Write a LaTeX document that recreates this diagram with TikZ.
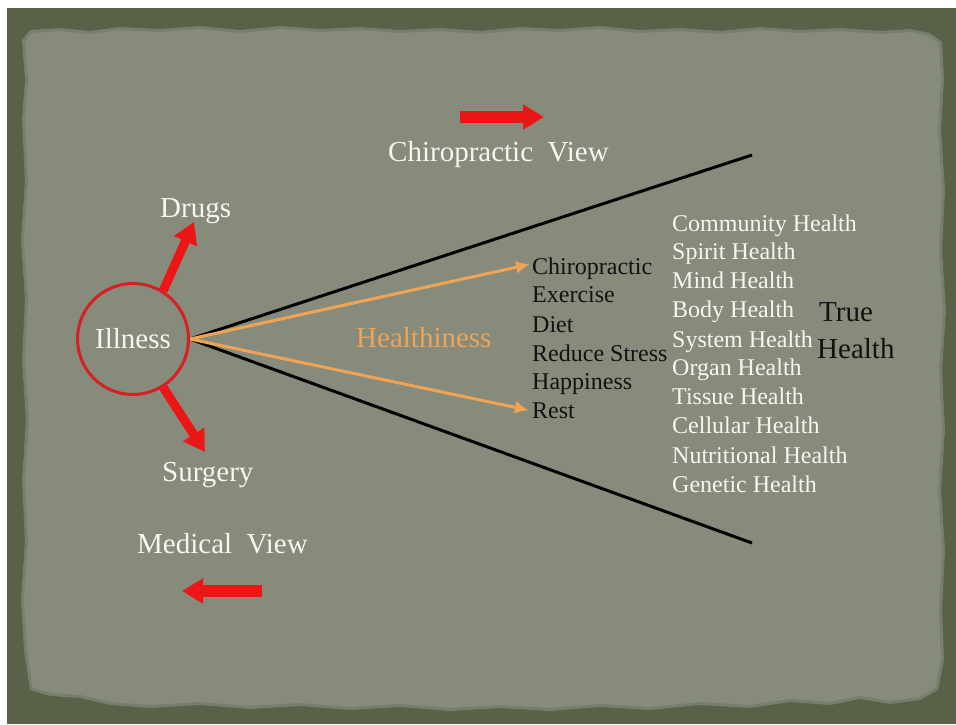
\documentclass[tikz,border=0pt]{standalone}
\usepackage{fontspec}
\setmainfont{Liberation Serif}
\usetikzlibrary{arrows.meta}
\definecolor{framecol}{RGB}{90,97,73}
\definecolor{papercol}{RGB}{134,139,124}
\definecolor{redA}{RGB}{236,22,22}
\definecolor{redC}{RGB}{214,32,36}
\definecolor{orangeA}{RGB}{238,164,84}
\definecolor{txtw}{RGB}{246,246,240}
\definecolor{txtb}{RGB}{18,18,18}
\begin{document}
\begin{tikzpicture}[x=1pt,y=-1pt,
  lbl/.style={inner sep=0pt, anchor=base west},
  bigw/.style={lbl, text=txtw, font=\fontsize{29}{34}\selectfont},
  smallw/.style={lbl, text=txtw, font=\fontsize{24}{29}\selectfont},
  smallb/.style={lbl, text=txtb, font=\fontsize{24}{29}\selectfont},
  bigb/.style={lbl, text=txtb, font=\fontsize{29}{34}\selectfont},
  redarrow/.style={redA, line width=9pt, -{Triangle[length=21pt,width=24pt]}},
  blockarrow/.style={redA, line width=12pt, -{Triangle[length=21pt,width=24pt]}},
  oarrow/.style={orangeA, line width=3pt, -{Latex[length=14pt,width=13pt]}},
  blackline/.style={black, line width=3pt}]
\useasboundingbox (0,0) rectangle (956,724);
% frame and paper
\fill[framecol] (7,8) rectangle (956,724);
\def\paperpath{(22,40) -- (30,30) -- (60,28) -- (90,31) -- (120,27) -- (160,29) -- (200,26) -- (240,30) -- (280,26) -- (320,29) -- (360,27) -- (400,30) -- (440,28) -- (480,31) -- (520,27) -- (560,29) -- (600,26) -- (640,30) -- (680,28) -- (720,31) -- (760,27) -- (800,30) -- (840,28) -- (880,31) -- (910,29) -- (930,33) -- (942,42)
 -- (944,80) -- (941,130) -- (945,190) -- (942,250) -- (946,310) -- (942,370) -- (945,430) -- (941,490) -- (945,550) -- (942,610) -- (944,660) -- (938,690)
 -- (920,700) -- (890,704) -- (860,699) -- (830,705) -- (790,702) -- (750,708) -- (700,705) -- (650,710) -- (600,707) -- (550,711) -- (500,708) -- (450,711) -- (400,707) -- (350,710) -- (300,706) -- (250,709) -- (200,705) -- (150,708) -- (110,705) -- (80,698) -- (50,696) -- (30,690)
 -- (24,650) -- (21,600) -- (25,540) -- (22,480) -- (26,420) -- (22,360) -- (25,300) -- (21,240) -- (25,180) -- (22,120) -- (25,80) -- cycle}
\fill[papercol] \paperpath;
\draw[framecol, line width=6pt, opacity=0.3, line join=round] \paperpath;

% nodes
\node[circle, draw=redC, line width=3pt, minimum size=111pt, inner sep=0pt,
      text=txtw, font=\fontsize{29}{34}\selectfont] (ill) at (133,339) {Illness};
\node[bigw] (drugs) at (160,217) {Drugs};
\node[bigw] (surgery) at (162,481) {Surgery};
\node[bigw] (medview) at (137,553) {Medical\ \ View};
\node[bigw] (chiroview) at (388,161) {Chiropractic\ \ View};
\node[lbl, text=orangeA, font=\fontsize{29}{34}\selectfont] (healthiness) at (356,347) {Healthiness};

\node[smallb] (mChiro) at (532,274) {Chiropractic};
\node[smallb] (mExer) at (532,302) {Exercise};
\node[smallb] (mDiet) at (532,332) {Diet};
\node[smallb] (mStress) at (532,361) {Reduce Stress};
\node[smallb] (mHappy) at (532,389) {Happiness};
\node[smallb] (mRest) at (532,418) {Rest};

\node[smallw] (rComm) at (672,231) {Community Health};
\node[smallw] (rSpirit) at (672,259) {Spirit Health};
\node[smallw] (rMind) at (672,288) {Mind Health};
\node[smallw] (rBody) at (672,317) {Body Health};
\node[smallw] (rSystem) at (672,347) {System Health};
\node[smallw] (rOrgan) at (672,375) {Organ Health};
\node[smallw] (rTissue) at (672,404) {Tissue Health};
\node[smallw] (rCell) at (672,433) {Cellular Health};
\node[smallw] (rNutr) at (672,463) {Nutritional Health};
\node[smallw] (rGen) at (672,492) {Genetic Health};

\node[bigb] (tTrue) at (819,321) {True};
\node[bigb] (tHealth) at (817,358) {Health};

% coordinates
\coordinate (topEnd) at (752,155);
\coordinate (botEnd) at (752,543);
\coordinate (drugTip) at (194,222);
\coordinate (surgTip) at (205,452);
\coordinate (cvTail) at (460,117);
\coordinate (cvTip) at (544,117);
\coordinate (mvTail) at (262,591);
\coordinate (mvTip) at (182,591);

% connectors
\draw[blackline] (ill.east) -- (topEnd);
\draw[blackline] (ill.east) -- (botEnd);
\draw[oarrow] (ill.east) -- ([xshift=-2pt,yshift=4pt]mChiro.west);
\draw[oarrow] (ill.east) -- ([xshift=-3pt]mRest.west);
\draw[redarrow] (ill.58) -- (drugTip);
\draw[redarrow] (ill.-58) -- (surgTip);
\draw[blockarrow] (cvTail) -- (cvTip);
\draw[blockarrow] (mvTail) -- (mvTip);
\end{tikzpicture}
\end{document}
